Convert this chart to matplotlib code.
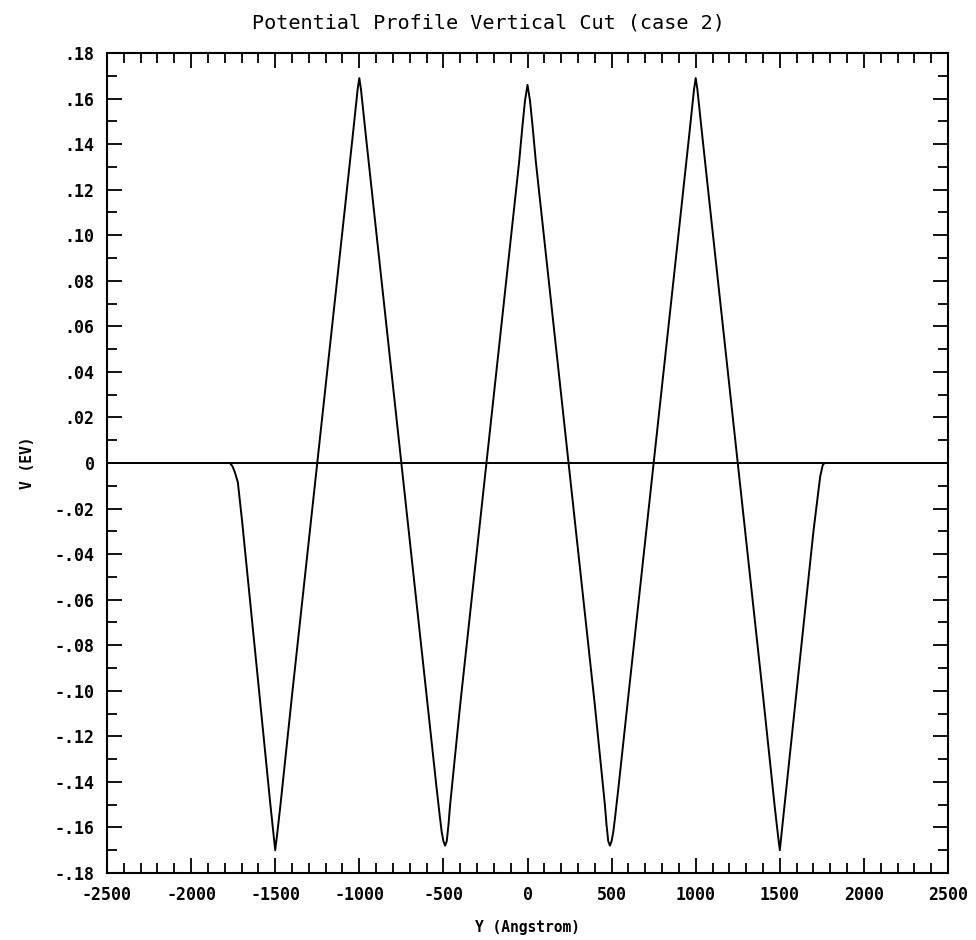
import matplotlib
matplotlib.use("Agg")
import matplotlib.pyplot as plt
from matplotlib.ticker import MultipleLocator, FixedLocator, FixedFormatter

# potential profile (Y in Angstrom, V in eV)
y_pos = [-2500, -1770, -1755, -1740, -1722, -1697, -1600, -1530, -1510, -1500,
         -1490, -1470, -1400, -1250, -1100, -1040, -1020, -1010, -1000, -990,
         -980, -960, -900, -750, -600, -540, -520, -510, -500, -490, -480, -470,
         -460, -400, -250, -100, -50, -30, -15, 0, 15, 30, 50, 100, 250, 400,
         460, 470, 480, 490, 500, 510, 520, 540, 600, 750, 900, 960, 980, 990,
         1000, 1010, 1020, 1040, 1100, 1250, 1400, 1470, 1490, 1500, 1510, 1530,
         1600, 1700, 1740, 1755, 1765, 2500]
v_pot = [0.0, 0.0, -0.0013, -0.004, -0.0085, -0.0254, -0.097, -0.149, -0.163, -0.170,
         -0.164, -0.151, -0.102, 0.0, 0.102, 0.143, 0.157, 0.164, 0.169, 0.164,
         0.157, 0.143, 0.102, 0.0, -0.102, -0.143, -0.156, -0.162, -0.166, -0.168, -0.166, -0.159,
         -0.150, -0.106, -0.004, 0.098, 0.132, 0.148, 0.159, 0.166, 0.159, 0.148, 0.132, 0.098, -0.004, -0.106,
         -0.150, -0.159, -0.166, -0.168, -0.166, -0.162, -0.156, -0.143, -0.102, 0.0, 0.102, 0.143, 0.157, 0.164,
         0.169, 0.164, 0.157, 0.143, 0.102, 0.0, -0.102, -0.151, -0.164, -0.170, -0.163, -0.149,
         -0.100, -0.030, -0.006, -0.001, 0.0, 0.0]

x_ticks = [-2500, -2000, -1500, -1000, -500, 0, 500, 1000, 1500, 2000, 2500]
x_labels = ["-2500", "-2000", "-1500", "-1000", "-500", "0", "500", "1000", "1500", "2000", "2500"]
y_ticks = [-0.18, -0.16, -0.14, -0.12, -0.10, -0.08, -0.06, -0.04, -0.02, 0.0,
           0.02, 0.04, 0.06, 0.08, 0.10, 0.12, 0.14, 0.16, 0.18]
y_labels = ["-.18", "-.16", "-.14", "-.12", "-.10", "-.08", "-.06", "-.04", "-.02", "0",
            ".02", ".04", ".06", ".08", ".10", ".12", ".14", ".16", ".18"]

plt.rcParams['font.family'] = ['DejaVu Sans Mono', 'DejaVu Sans']

fig = plt.figure(figsize=(9.76, 9.40), dpi=100)
ax = fig.add_axes([107/976, 67/940, 841/976, 820/940])

ax.axhline(0, color='black', lw=1.4)
ax.plot(y_pos, v_pot, color='black', lw=1.4)

ax.set_xlim(-2500, 2500)
ax.set_ylim(-0.18, 0.18)

ax.xaxis.set_major_locator(FixedLocator(x_ticks))
ax.xaxis.set_major_formatter(FixedFormatter(x_labels))
ax.xaxis.set_minor_locator(MultipleLocator(100))
ax.yaxis.set_major_locator(FixedLocator(y_ticks))
ax.yaxis.set_major_formatter(FixedFormatter(y_labels))
ax.yaxis.set_minor_locator(MultipleLocator(0.01))

ax.tick_params(which='both', direction='in', top=True, right=True, width=1.3, color='black')
ax.tick_params(which='major', length=11, pad=9, labelsize=12)
ax.tick_params(which='minor', length=7)
for lab in ax.get_xticklabels() + ax.get_yticklabels():
    lab.set_fontweight('bold')
for s in ax.spines.values():
    s.set_linewidth(1.5)

ax.set_xlabel('Y (Angstrom)', fontsize=10.5, fontweight='bold', labelpad=12)
ax.set_ylabel('V (EV)', fontsize=10.5, fontweight='bold', labelpad=14)
fig.text(0.5, 1 - 23/940, 'Potential Profile Vertical Cut (case 2)', ha='center', va='center',
         fontsize=14.5)

fig.savefig('out.png', dpi=100)
